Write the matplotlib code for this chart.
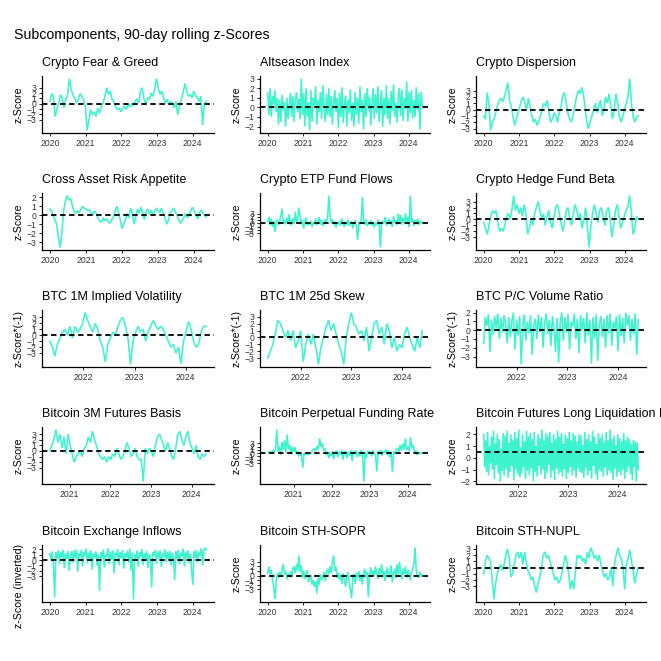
import matplotlib
matplotlib.use("Agg")
import matplotlib.pyplot as plt
import matplotlib.dates as mdates
import pandas as pd

plt.rcParams['font.family'] = ['Liberation Sans', 'DejaVu Sans']

# ---------------- data ----------------
titles = ["Crypto Fear & Greed", "Altseason Index", "Crypto Dispersion",
          "Cross Asset Risk Appetite", "Crypto ETP Fund Flows", "Crypto Hedge Fund Beta",
          "BTC 1M Implied Volatility", "BTC 1M 25d Skew", "BTC P/C Volume Ratio",
          "Bitcoin 3M Futures Basis", "Bitcoin Perpetual Funding Rate",
          "Bitcoin Futures Long Liquidation Dominance",
          "Bitcoin Exchange Inflows", "Bitcoin STH-SOPR", "Bitcoin STH-NUPL"]
ylabels = ["z-Score", "z-Score", "z-Score",
           "z-Score", "z-Score", "z-Score",
           "z-Score*(-1)", "z-Score*(-1)", "z-Score*(-1)",
           "z-Score", "z-Score", "z-Score",
           "z-Score (inverted)", "z-Score", "z-Score"]
starts = ["2020-01-01", "2020-01-01", "2020-01-01",
          "2020-01-01", "2020-01-01", "2020-01-01",
          "2021-05-08", "2021-05-08", "2021-05-08",
          "2020-07-08", "2020-04-27", "2021-04-20",
          "2020-01-01", "2020-01-01", "2020-01-01"]
ends = ["2024-05-20", "2024-05-20", "2024-05-20",
        "2024-05-08", "2024-05-20", "2024-05-20",
        "2024-05-25", "2024-05-25", "2024-05-25",
        "2024-05-10", "2024-05-20", "2024-06-01",
        "2024-05-20", "2024-05-20", "2024-05-20"]
ref_levels = [0, 0, 0, 0, 0, 0, 0, 0, 0, 0, 0, 0.5, 0, 0, 0]
year_ticks = [2020, 2021, 2022, 2023, 2024]
z_ticks = [-3, -2, -1, 0, 1, 2, 3]

fear_greed = [0.4, 1.9, 1.4, -2.4, -1.1, 0.0, 1.7, 1.1, -0.8, 0.8, 1.7, 4.7, 2.7, 1.7, 1.1, 0.1, 0.8, 1.9, 1.4, 0.8,
              -0.5, -5.0, -3.1, -1.1, -2.1, -1.5, -2.4, -0.8, -1.8, -0.5, 0.1, 1.4, 3.0, 1.7, 2.4, 0.8, 0.4, -0.5, -1.1, -0.8,
              -1.5, -0.8, -0.5, -1.1, -0.2, -0.6, 0.1, -0.4, 0.4, 0.9, 0.1, 2.4, 3.0, 0.8, -0.2, 1.1, 0.8, 2.0, 1.4, 2.7,
              4.7, 3.0, 1.7, 2.4, 1.1, 0.1, 0.8, -0.2, 0.4, 0.1, -0.8, 0.4, -2.1, -0.5, 0.8, 2.0, 3.8, 2.4, 1.4, 1.7,
              1.1, 2.4, 1.5, 1.1, 0.4, 1.4, -4.0, 0.1, 0.4]

altseason = [1.5, -0.8, 2.0, -1.0, 1.2, 0.3, 1.8, -0.5, 1.0, -1.8,
             0.8, -1.5, 1.3, -0.2, 0.5, -2.0, 1.0, -1.2, 0.2, 1.5,
             -1.0, 1.2, -1.5, 0.8, 1.6, -0.5, 0.9, -1.2, 3.0, -0.8,
             1.5, -2.0, 2.0, -1.0, 0.5, -2.4, 1.8, -1.5, 1.0, 0.2,
             2.2, -1.8, 0.8, -0.5, 1.6, -1.2, 2.3, 0.0, -1.5, 1.4,
             -0.8, 2.0, -1.0, 1.2, -1.8, 0.6, 1.8, -0.5, 1.0, -2.2,
             1.5, -1.0, 2.1, -1.6, 0.4, 1.2, -2.0, 0.8, -0.6, 1.9,
             -1.4, 0.5, -2.0, 1.6, -0.8, 1.0, -1.7, 2.2, -0.5, 0.8,
             -2.3, 1.5, -1.0, 2.0, -0.3, 1.1, -1.9, 0.6, 2.0, -1.2,
             1.4, -0.6, 2.2, -1.5, 0.3, 1.8, -2.0, 1.0, -0.8, 2.3,
             -1.2, 0.9, -1.8, 1.7, -0.4, 2.4, -1.0, 0.5, -1.6, 1.3,
             2.0, -0.9, 1.8, -1.4, 1.0, -0.2, 2.7, -1.5, 1.6, -0.6,
             1.8, -1.2, 0.8, -1.0, 2.1, -0.3, 1.5, -2.3, 1.6, 0.2]

dispersion = [-1.0, -1.5, 2.7, 1.0, -3.3, -2.0, -1.5, -0.5, 0.5, 1.5, 1.8, 1.2, 2.0, 3.0, 4.3, 1.5, 0.5, -1.0, -2.5, -1.5, -0.5, 0.5,
              1.5, 2.0, 1.0, 0.0, 1.8, 0.5, -1.0, -2.0, -1.5, -2.5, -2.0, -1.0, 0.0, 1.0, 0.5, 1.5, -0.5, -2.0, -1.5, -0.5,
              -1.0, -2.0, -0.5, 0.5, 2.2, 2.7, 1.0, -0.5, -1.5, -2.0, -1.0, 0.5, 2.0, 3.0, 2.5, 3.5, 2.5, 0.5, -2.0, -3.0,
              -2.0, -1.0, 0.0, 1.0, -0.5, 0.5, 1.5, -1.0, 0.0, 2.0, 1.0, 2.5, 0.5, -1.5, 0.0, 2.5, 1.0, -1.0, -2.0, -1.0,
              0.0, 1.0, 2.0, 4.9, 1.0, -1.0, -2.0, -1.2, -1.0]

cross_asset = [0.7, 0.5, 0.0, -0.5, -1.0, -2.5, -3.6, -2.0, 0.5, 1.5, 2.2, 1.7, 1.9, 1.2, 0.5, 0.2, 0.5, 0.3, 0.6, 1.0, 0.8, 0.7, 0.5, 0.6,
               0.3, 0.0, 0.5, 0.2, -0.3, -0.6, -0.8, -0.3, -0.6, -0.4, -0.7, -0.9, -0.5, -0.2, 0.5, 1.0, 0.3, -0.5, -1.5, -1.0,
               -0.5, 0.2, -0.3, 0.8, 0.2, -1.0, -0.2, 0.7, 0.2, 0.9, 0.3, -0.5, 0.4, 0.7, 0.1, 0.6, 0.0, 0.4, 0.8, 0.5,
               0.3, 0.8, 0.2, -0.3, -1.0, -0.6, 0.2, 0.5, 0.8, 0.4, 0.0, -0.5, -0.9, -0.6, -0.3, 0.2, -0.3, 0.0, 0.5, 0.9,
               0.5, 0.0, -0.4, 0.2, 0.6, 0.3, 0.0, -0.2]

etp_flows = [0.5, 2.0, -0.5, 1.5, -1.0, 0.8, -2.5, 0.3, 1.2, -0.4,
             0.6, 2.5, 4.5, 0.0, 1.0, -0.3, 1.8, 0.2, 2.8, -0.5,
             0.4, 1.5, -0.2, 3.5, 0.6, 1.0, 4.8, 2.2, -0.3, 1.0,
             -1.5, 0.5, 1.8, -0.6, 0.2, -0.3, 0.8, -1.0, 0.4, -0.2,
             1.5, -0.5, 0.3, 2.0, -0.4, 1.0, -0.8, 0.5, 1.2, 0.2,
             1.8, 8.4, 2.5, 0.0, 1.2, -0.3, 0.6, -1.2, 0.4, -0.2,
             0.8, -0.6, 1.5, 0.0, -1.0, 0.5, -0.4, 1.2, -0.8, 0.3,
             0.6, -1.5, 0.2, 1.0, -0.8, -5.0, 0.4, -0.3, 0.9, 8.0,
             0.5, -0.4, 1.3, -0.8, 0.2, -0.3, 1.0, -0.6, 0.4, -1.2,
             0.3, -0.5, 1.2, -0.2, -7.2, -0.4, 0.6, 0.0, 2.0, -0.6,
             0.5, 1.5, -0.3, 0.8, -1.0, 2.2, 0.2, 1.0, -0.5, 3.0,
             0.6, 2.5, -0.4, 1.8, 0.2, 3.0, 0.5, 2.0, -1.0, 8.4,
             0.3, 1.6, -0.8, 1.0, 0.2, 1.4, -0.5, 0.8, 0.0, 0.5]

hf_beta = [-0.5, -1.5, -2.5, -1.0, 0.5, 1.5, 1.0, 1.5, -0.5, -2.0, -1.5, -2.0, -1.0, 0.5, 1.0, 0.0, 1.5, 4.0, 1.5, 2.5,
           1.0, 2.0, 0.5, 2.5, 1.0, -2.5, -1.5, 0.0, -1.0, 1.0, 2.0, 3.0, 1.5, 0.0, 1.0, -1.0, 0.5, 1.5, -0.5, -1.5,
           0.5, 2.0, 2.5, 1.0, -0.5, -2.0, -0.5, 1.5, 2.0, 0.0, -1.0, 1.0, 2.5, 1.5, 0.0, 1.0, -1.5, 0.0, 2.0, -1.0,
           -4.7, -1.0, 1.0, 2.5, 1.0, -0.5, 1.5, 2.0, 0.5, -1.0, 1.5, 2.0, 0.0, -3.0, -1.0, 1.5, 2.5, 0.5, -1.5, -0.5,
           0.5, 1.5, 2.0, 4.0, 1.5, -2.5, -1.5, 0.5, 0.0]

btc_iv = [-1.0, -2.0, -3.5, -1.5, -0.5, 0.5, 1.0, 0.0, 1.5, -0.5, 1.5, 0.5, 1.0, 2.0, 3.8, 2.5, 1.5, 0.5, 2.0, 1.0,
          -1.0, -2.0, -4.5, -1.5, -0.5, 0.5, 0.0, 1.5, 2.5, 3.0, 1.5, -0.5, -4.9, -1.0, 0.5, 1.5, 0.5, 1.0, -1.0, 0.5,
          1.5, 2.5, 1.5, 1.0, 1.5, 1.0, 0.0, -1.0, -2.0, -1.5, -3.0, -2.0, -4.8, -1.0, 0.5, 2.3, 1.0, -1.0, -2.0, -1.5,
          0.5, 1.5, 1.5]

btc_skew = [-3.0, -2.0, -1.0, 0.5, 2.5, 2.0, 1.0, 0.0, 1.0, -0.5, 1.0, -1.5, -0.5, 1.0, -3.5, -1.0, 0.5, -1.0, 0.5, -1.5,
            -3.9, -1.5, 0.0, 1.5, 2.5, 1.0, 2.0, 0.5, -1.0, -2.0, -3.9, 0.0, 2.0, 3.6, 2.0, 1.5, 0.5, 1.0, -0.5, 1.5,
            -2.0, 0.0, 2.0, 2.5, 0.5, 1.5, -1.0, 2.0, 1.0, -1.5, 0.0, -2.0, -1.0, -1.5, 0.5, 1.5, 0.0, -1.0, -2.0, 0.0,
            -1.5, 1.0]

btc_pc = [-1.5, 1.5, 0.5, 1.8, -2.5, 1.2, -0.5, 1.6, 0.2, 1.9,
          -1.0, 1.4, -0.3, 1.7, 0.8, -1.5, 1.5, -0.8, 1.0, 2.0,
          -2.2, 1.2, -0.6, 1.6, -3.9, 0.5, 1.8, -1.2, 1.0, -0.4,
          1.7, -2.8, 0.6, 1.3, -1.0, 1.8, -0.2, 1.5, -2.0, 0.8,
          1.9, -0.5, 1.2, -1.8, 1.6, 0.3, -2.5, 1.4, -3.7, 0.9,
          2.0, -1.2, 1.5, -0.3, 1.8, -2.2, 1.0, 0.4, 1.9, -1.0,
          1.3, -2.6, 1.7, 0.0, 1.4, -1.5, 2.0, -0.6, 1.2, -3.8,
          1.5, -1.0, 1.8, -3.5, 0.6, 1.6, -0.8, 1.3, -2.0, 1.7,
          -0.4, 1.9, -1.8, 1.0, 0.2, 1.6, -2.4, 1.8, -0.7, 1.4,
          -1.5, 2.0, 0.5, 1.7, -1.2, 1.3, -0.5, 1.9, -2.8, 1.2]

basis_3m = [0.0, 1.0, 2.0, 3.8, 1.5, 3.0, 0.5, 2.5, -0.5, 3.0, 1.0, -0.5, -2.0, -1.0, -0.5, 0.0, -1.0, 0.5, 1.0, 2.5,
            1.5, 3.5, 2.0, 1.0, -0.5, -1.0, -1.5, -1.0, -2.0, -1.0, -1.5, -0.5, -1.0, 0.5, -0.5, -1.5, -1.0, 0.0, 1.5, 0.5,
            -1.0, -0.5, 0.5, -1.0, -1.5, -1.5, -5.4, 0.5, -0.5, 0.5, 0.0, -1.0, 1.0, 2.5, 3.0, 2.0, 1.0, 0.0, 1.5, 0.5,
            -1.0, -1.5, 0.5, 3.0, 3.5, 2.0, 1.0, 2.5, 3.5, 1.5, 0.5, -0.5, 1.0, -1.0, -1.5, -0.5, -1.0, -0.5]

perp_funding = [0.3, 0.0, 0.5, 0.2, 0.8, 0.4, 1.5, 7.2, 0.5, 2.0,
                -0.5, 3.5, 1.0, 4.0, 0.2, 5.7, 1.2, 2.5, -0.3, 2.0,
                0.5, 1.8, -0.4, 0.6, -1.0, 0.2, -0.8, -4.4, 0.0, -0.5,
                0.3, -0.6, 0.1, -0.3, 0.5, 1.0, 1.5, 0.6, 2.2, 1.2,
                4.5, 2.0, 3.0, 0.8, 1.5, -0.5, 0.2, -1.5, 0.4, -1.0,
                0.6, -1.8, 0.2, 0.8, -1.2, 0.5, -0.6, 1.0, -2.0, 0.3,
                0.7, -1.5, 0.4, -0.8, 1.0, -2.5, 0.6, -0.3, 0.9, -1.2,
                0.5, -1.0, 1.0, -0.4, -8.6, 0.3, -1.5, 0.8, -0.2, 0.6,
                -1.0, 0.9, 0.1, -0.6, -5.5, 0.7, -0.4, 1.0, -0.8, 0.5,
                0.2, 1.2, -0.5, 0.8, -1.2, 0.4, -5.8, 0.6, 0.0, 1.0,
                1.5, 0.5, 2.5, 0.8, 3.0, 1.2, 4.5, 1.0, 2.0, 0.5,
                4.9, 1.5, 2.5, 0.3, 0.8, -0.5, 0.4, -0.3, 0.2, 0.0]

long_liq = [2.0, -0.8, 1.5, -1.2, 2.2, -1.5, 1.0, -0.5, 1.8, -1.0,
            2.3, -1.8, 1.2, -0.6, 2.0, -1.3, 1.6, -2.0, 0.8, -1.1,
            2.1, -1.5, 1.9, -0.9, 2.3, -1.7, 1.3, -1.2, 2.0, -0.7,
            1.5, -1.9, 2.2, -1.0, 1.7, -1.4, 2.4, -1.6, 0.9, -1.3,
            2.0, -0.8, 1.4, -1.8, 2.3, -1.1, 1.8, -1.5, 2.1, -0.9,
            1.6, -2.0, 2.2, -1.2, 1.0, -1.6, 2.0, -0.7, 1.7, -1.4,
            2.4, -1.0, 1.5, -1.8, 2.1, -1.3, 1.9, -0.6, 2.2, -1.7,
            1.3, -1.1, 2.0, -1.9, 1.6, -0.9, 2.3, -1.4, 1.8, -1.2,
            2.1, -1.6, 1.2, -1.0, 2.0, -1.8, 1.7, -1.3, 2.2, -0.8,
            1.5, -1.5, 2.1, -1.1, 1.9, -1.7, 1.4, -0.9, 2.0, -1.2,
            1.9, -1.3, 1.1, -1.7, 2.2, -0.9, 1.6, -1.5, 2.0, -1.1,
            1.4, -1.8, 2.3, -0.7, 1.8, -1.4, 1.2, -1.9, 2.1, -1.0,
            1.7, -1.2, 2.0, -1.6, 1.3, -0.8, 2.2, -1.5, 1.5, -1.1,
            2.4, -1.3, 1.6, -1.9, 1.9, -0.9, 1.1, -1.6, 2.0, -1.2,
            1.7, -1.5, 1.4, -1.0, 2.1, -1.8, 1.5, -1.2, 1.8, -0.8,
            1.6, -1.4, 1.2, -1.9, 1.5, -0.8, 1.4, -2.0, 1.3, -1.0]

exch_inflows = [1.2, 0.0, 1.6, -1.0, -6.9, 1.4, 0.3, 1.8, -0.8, 1.5,
                0.5, 1.9, -1.5, 1.2, 0.2, 1.7, -2.0, 1.0, 1.6, -0.5,
                1.8, 0.4, 2.0, -2.2, 1.3, 0.6, 1.9, -1.2, 1.5, 0.8,
                2.1, -0.6, 1.4, 0.2, 1.8, -1.8, 1.2, 0.5, 1.6, -1.0,
                1.0, -5.7, 1.5, 0.3, 1.9, -1.4, 1.1, 0.6, 2.2, -0.8,
                1.6, 0.1, 1.8, -2.5, 1.3, 0.7, 2.0, -1.0, 1.5, 0.4,
                1.9, -1.6, 1.2, 0.5, 1.7, -0.5, 2.1, -2.0, 1.4, -7.3,
                1.0, 0.3, 1.8, -1.2, 1.5, 0.6, 2.0, -0.9, 1.3, 0.2,
                1.7, -1.5, 1.1, 0.4, -5.1, 1.4, 0.8, 1.9, -0.7, 1.6,
                0.3, 1.8, -1.3, 1.2, 0.6, 2.0, -0.4, 1.5, 0.1, 1.7,
                -1.0, 1.3, 0.5, -3.7, 1.6, 0.2, 1.9, -0.8, 1.4, 0.7,
                2.1, -1.2, 1.5, 0.3, 1.8, -0.6, 1.2, -2.0, -4.6, 1.6,
                0.4, 1.9, -0.5, 1.4, 0.8, 2.2, -1.0, 1.7, 2.3, 1.8]

sth_sopr = [0.5, 2.0, 0.3, 1.2, -1.0, -2.5, -5.2, -1.5, 0.5, -0.5,
            0.8, -0.3, 1.5, 2.5, 0.2, 1.0, -0.8, 0.4, -0.3, 0.9,
            0.0, 1.5, 2.0, 0.5, 2.5, 1.0, 4.4, 0.8, 2.2, -0.5,
            1.0, -0.8, 0.3, 1.2, -1.5, -0.5, 0.2, -2.0, -1.0, -2.5,
            -1.2, -3.9, -0.5, -2.0, 0.3, -1.0, -0.4, 0.8, -1.2, 0.5,
            1.5, 0.2, 2.0, 0.6, 3.0, 4.4, 1.0, 2.0, -0.5, 0.6,
            -1.0, 0.3, -1.8, 0.5, -0.8, -2.5, -0.2, 0.8, -1.5, -3.0,
            -4.9, -0.5, 0.4, -1.8, 0.6, -0.6, 1.0, -1.2, 0.3, -2.0,
            0.5, 1.5, -0.5, 0.8, -4.7, 0.2, 1.8, -0.3, 1.2, 0.0,
            2.0, 0.5, -0.8, 1.6, 0.3, 2.5, -0.4, 1.0, -1.2, 0.6,
            1.8, -0.5, 0.8, 2.2, -1.5, 0.4, 1.5, -0.6, 2.5, 0.2,
            3.0, 1.0, -0.8, 1.5, 0.3, 2.0, -0.5, 1.2, 0.6, -1.0,
            0.8, 1.5, 2.5, 6.1, 1.0, 0.0, -0.5, 0.8, -0.3, 0.2]

sth_nupl = [-1.0, 1.0, 2.0, 1.5, 1.0, -2.0, -5.1, -2.5, -1.0, 0.0, 0.5, -0.5, 0.5, 2.0, 3.0, 1.5, -1.5, -1.0, 0.5, 2.0, 2.5, 1.5, 2.5,
            0.5, 2.5, 1.0, -0.5, -1.0, -2.0, -1.5, -3.0, -4.0, -2.5, -1.5, 0.0, 2.0, 2.5, 1.5, 2.0, 1.0, 0.0, -1.0, -2.0,
            -1.5, -2.5, -2.0, -1.0, 0.5, 2.0, 1.0, -1.0, -3.5, -2.0, -3.5, -0.5, 2.0, 1.5, 2.0, 1.0, 1.5, 0.5, 2.5, 1.5,
            3.2, 2.5, 1.5, 2.0, 1.0, 2.0, 0.5, -0.5, -1.5, -1.0, -2.0, -1.5, 0.0, -3.0, 0.5, 2.0, 3.2, 2.0, 1.5, 0.0,
            -3.5, 0.5, 1.5, 2.8, 1.0, -0.5, -2.5, -1.0, 0.0]

series = [fear_greed, altseason, dispersion, cross_asset, etp_flows, hf_beta,
          btc_iv, btc_skew, btc_pc, basis_3m, perp_funding, long_liq,
          exch_inflows, sth_sopr, sth_nupl]

# ---------------- layout (pixels) ----------------
W = H = 661
col_left = [42, 260, 476]
col_right = [214, 430, 646]
row_top = [76, 193, 310, 427, 545]
row_bottom = [133, 250, 367, 484, 602]
ylabel_shift = [0, 0, 0, 0, 0, 0, 0, 0, 0, 0, 0, 0, 12, 0, 0]

LINE = "#3EF4CF"
TXT = "#333333"

fig = plt.figure(figsize=(W / 100, H / 100), dpi=100)
fig.text(14 / W, 1 - 35 / H, "Subcomponents, 90-day rolling z-Scores",
         fontsize=10.2, ha="left", va="center", color="black")

for i, vals in enumerate(series):
    r, c = divmod(i, 3)
    l, rt = col_left[c], col_right[c]
    t, b = row_top[r], row_bottom[r]
    ax = fig.add_axes([l / W, 1 - b / H, (rt - l) / W, (b - t) / H])
    dates = pd.date_range(starts[i], ends[i], periods=len(vals))
    ax.plot(dates, vals, color=LINE, lw=1.15, solid_joinstyle="miter")
    ax.margins(x=0.05, y=0.05)
    ylim = ax.get_ylim()
    ax.axhline(ref_levels[i], color="black", lw=1.3, ls=(0, (3.0, 2.0)))
    ax.set_yticks(z_ticks)
    ax.set_ylim(ylim)
    xl = ax.get_xlim()
    ax.set_xticks([mdates.date2num(pd.Timestamp(f"{y}-01-01")) for y in year_ticks])
    ax.set_xticklabels([str(y) for y in year_ticks])
    ax.set_xlim(xl)
    for s in ["top", "right"]:
        ax.spines[s].set_visible(False)
    for s in ["left", "bottom"]:
        ax.spines[s].set_linewidth(0.9)
        ax.spines[s].set_color("black")
    ax.tick_params(axis="both", direction="out", length=2.5, width=0.6,
                   color="black", labelsize=6.2, labelcolor=TXT, pad=1.5)
    fig.text(l / W, 1 - (t - 13) / H, titles[i], fontsize=9, ha="left",
             va="center", color="black")
    fig.text((l - 23) / W, 1 - ((t + b) / 2 + ylabel_shift[i]) / H, ylabels[i],
             fontsize=7.6, rotation=90, ha="center", va="center", color="black")

fig.savefig("out.png", dpi=100)
